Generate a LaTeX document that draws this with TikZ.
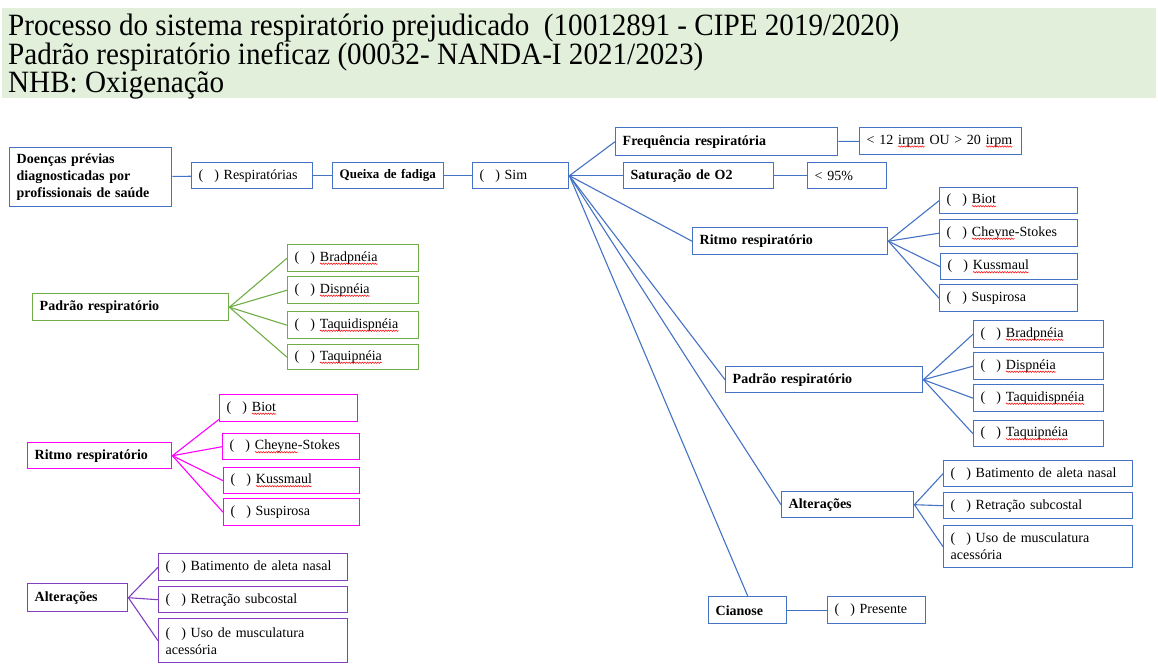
\documentclass[tikz,border=0pt]{standalone}
\usepackage{fontspec}
\setmainfont{Liberation Serif}
\newfontfamily\hdrfont[FakeStretch=0.94]{Liberation Serif}
\usetikzlibrary{decorations.pathmorphing}

\definecolor{blu}{HTML}{4472C4}
\definecolor{grn}{HTML}{70AD47}
\definecolor{mag}{HTML}{FF00FF}
\definecolor{pur}{HTML}{7F3FBF}
\definecolor{hdr}{HTML}{E2EFDA}

% red wavy underline of the spell checker
\newcommand\sq[1]{\tikz[baseline=(sqw.base)]{\node[inner sep=0pt, outer sep=0pt, draw=none, anchor=base west,
    minimum width=0pt, minimum height=0pt, text width=] (sqw) {#1};
  \draw[red, line width=0.5pt, decorate, decoration={snake, amplitude=0.7pt, segment length=2.6pt}]
    ([yshift=-2.3pt]sqw.base west) -- ([yshift=-2.3pt]sqw.base east);}}
\newcommand\marca{(\hspace{11pt})\ }

\tikzset{
  bx/.style={draw=#1, line width=1.4pt, rectangle, anchor=north west,
    inner xsep=7pt, inner ysep=0pt, align=left, font=\fontsize{14}{17}\selectfont},
  bx/.default=blu,
  tit/.style={font=\fontsize{14}{17}\selectfont\bfseries},
  sz/.code 2 args={\pgfmathsetmacro\bxtw{#1-14}\pgfkeysalso{minimum width=#1pt, minimum height=#2pt, text width=\bxtw pt}},
  lnk/.style={draw=#1, line width=1.1pt},
  lnk/.default=blu,
}

\begin{document}
\begin{tikzpicture}[x=1pt,y=-1pt]
  \useasboundingbox (0,0) rectangle (1158,667);

  % header
  \fill[hdr] (2,8) rectangle (1156,98);
  \node[anchor=base west, inner sep=0pt, font=\hdrfont\fontsize{31}{31}\selectfont] (h1) at (8,35) {Processo do sistema respiratório prejudicado\ \ (10012891 - CIPE 2019/2020)};
  \node[anchor=base west, inner sep=0pt, font=\hdrfont\fontsize{31}{31}\selectfont] (h2) at (8,64) {Padrão respiratório ineficaz (00032- NANDA-I 2021/2023)};
  \node[anchor=base west, inner sep=0pt, font=\hdrfont\fontsize{31}{31}\selectfont] (h3) at (8,92) {NHB: Oxigenação};

  % main chain
  \node[bx, tit, sz={162}{59}] (doe) at (9,147) {Doenças prévias\\diagnosticadas por\\profissionais de saúde};
  \node[bx, sz={121}{26}] (resp) at (191,162) {\marca Respiratórias};
  \node[bx, tit, sz={111}{26}, font=\fontsize{13}{16}\selectfont\bfseries] (queixa) at (332,162) {\mbox{Queixa de fadiga}};
  \node[bx, sz={96}{26}] (sim) at (472,162) {\marca Sim};

  \draw[lnk] (doe) -- (resp);
  \draw[lnk] (resp) -- (queixa);
  \draw[lnk] (queixa) -- (sim);

  \node[bx, tit, sz={222}{28}] (freq) at (615,127) {Frequência respiratória};
  \node[bx, sz={162}{27}] (freqval) at (859,127) {< 12 \sq{irpm} OU > 20 \sq{irpm}};
  \node[bx, tit, sz={150}{26}] (sat) at (623,162) {Saturação de O2};
  \node[bx, sz={79}{26}] (satval) at (807,162) {< 95\%};

  \node[bx, tit, sz={195}{27}] (ritR) at (692,227) {Ritmo respiratório};
  \node[bx, sz={138}{26}] (ritR1) at (939,187) {\marca\sq{Biot}};
  \node[bx, sz={138}{27}] (ritR2) at (939,219) {\marca\sq{Cheyne}-Stokes};
  \node[bx, sz={137}{26}] (ritR3) at (940,253) {\marca\sq{Kussmaul}};
  \node[bx, sz={138}{27}] (ritR4) at (939,284) {\marca Suspirosa};

  \node[bx, tit, sz={197}{26}] (padR) at (725,366) {Padrão respiratório};
  \node[bx, sz={130}{27}] (padR1) at (973,320) {\marca\sq{Bradpnéia}};
  \node[bx, sz={130}{27}] (padR2) at (973,352) {\marca\sq{Dispnéia}};
  \node[bx, sz={130}{27}] (padR3) at (973,384) {\marca\sq{Taquidispnéia}};
  \node[bx, sz={130}{26}] (padR4) at (973,420) {\marca\sq{Taquipnéia}};

  \node[bx, tit, sz={132}{26}] (altR) at (781,491) {Alterações};
  \node[bx, sz={189}{26}] (altR1) at (943,460) {\marca Batimento de aleta nasal};
  \node[bx, sz={189}{26}] (altR2) at (943,492) {\marca Retração subcostal};
  \node[bx, sz={189}{42}] (altR3) at (943,525) {\marca Uso de musculatura\\acessória};

  \node[bx, tit, sz={78}{27}] (cian) at (708,596) {Cianose};
  \node[bx, sz={98}{27}] (pres) at (827,596) {\marca Presente};

  \foreach \n in {freq,sat,ritR,padR,altR}
    \draw[lnk] (sim.east) -- (\n.west);
  \draw[lnk] (sim.east) -- (cian.north);
  \draw[lnk] (freq) -- (freqval);
  \draw[lnk] (sat) -- (satval);
  \draw[lnk] (cian) -- (pres);
  \foreach \k in {1,...,4} {
    \draw[lnk] (ritR.east) -- (ritR\k.west);
    \draw[lnk] (padR.east) -- (padR\k.west);
  }
  \foreach \k in {1,2,3}
    \draw[lnk] (altR.east) -- (altR\k.west);

  % left: padrao
  \node[bx=grn, tit, sz={196}{27}] (padL) at (32,293) {Padrão respiratório};
  \node[bx=grn, sz={131}{27}] (padL1) at (287,244) {\marca\sq{Bradpnéia}};
  \node[bx=grn, sz={131}{27}] (padL2) at (287,276) {\marca\sq{Dispnéia}};
  \node[bx=grn, sz={131}{27}] (padL3) at (287,311) {\marca\sq{Taquidispnéia}};
  \node[bx=grn, sz={131}{25}] (padL4) at (287,344) {\marca\sq{Taquipnéia}};
  \foreach \k in {1,...,4}
    \draw[lnk=grn] (padL.east) -- (padL\k.west);

  % left: ritmo
  \node[bx=mag, tit, sz={144}{26}] (ritL) at (27,442) {Ritmo respiratório};
  \node[bx=mag, sz={138}{27}] (ritL1) at (219,394) {\marca\sq{Biot}};
  \node[bx=mag, sz={137}{26}] (ritL2) at (222,433) {\marca\sq{Cheyne}-Stokes};
  \node[bx=mag, sz={136}{26}] (ritL3) at (223,467) {\marca\sq{Kussmaul}};
  \node[bx=mag, sz={136}{27}] (ritL4) at (223,498) {\marca Suspirosa};
  \draw[lnk=mag] (ritL.east) -- ([yshift=3pt]ritL1.south west);
  \foreach \k in {2,3,4}
    \draw[lnk=mag] (ritL.east) -- (ritL\k.west);

  % left: alteracoes
  \node[bx=pur, tit, sz={100}{28}] (altL) at (27,583) {Alterações};
  \node[bx=pur, sz={189}{27}] (altL1) at (158,553) {\marca Batimento de aleta nasal};
  \node[bx=pur, sz={189}{26}] (altL2) at (158,586) {\marca Retração subcostal};
  \node[bx=pur, sz={189}{44}] (altL3) at (158,618) {\marca Uso de musculatura\\acessória};
  \foreach \k in {1,2,3}
    \draw[lnk=pur] (altL.east) -- (altL\k.west);
\end{tikzpicture}
\end{document}
